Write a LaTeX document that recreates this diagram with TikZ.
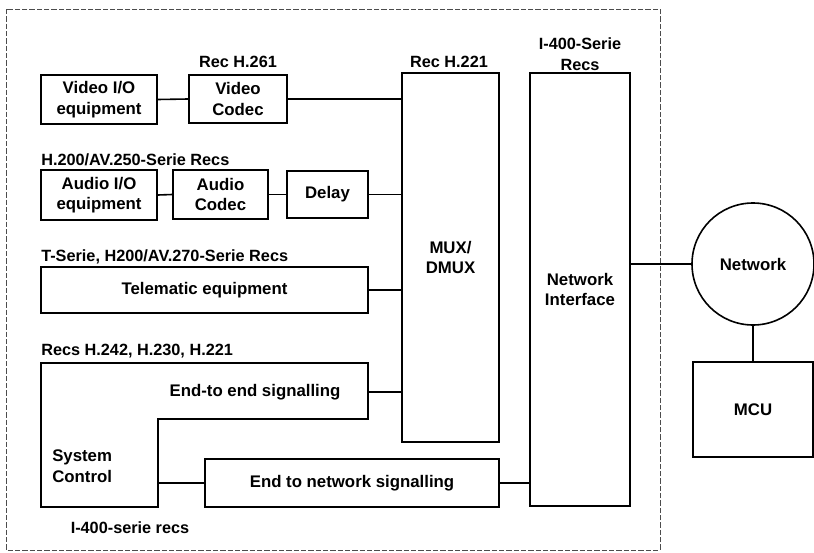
\documentclass[tikz,border=0pt]{standalone}
\usepackage{fontspec}
\setmainfont{Liberation Sans}
\begin{document}
\begin{tikzpicture}[x=0.75pt,y=-0.75pt,
  box/.style={draw,line width=1.2pt,align=center,inner sep=0pt,font=\bfseries\fontsize{12.6}{15.5}\selectfont},
  txt/.style={align=center,inner sep=0pt,font=\bfseries\fontsize{12.6}{15.5}\selectfont},
  lbl/.style={inner sep=0pt,align=center,font=\bfseries\fontsize{12.2}{15.5}\selectfont},
  conn/.style={line width=1.2pt},
  frame/.style={line width=0.6pt,black!70,dash pattern=on 4pt off 1.5pt}]
\useasboundingbox (0,0) rectangle (814,553);
\fill[white] (0,0) rectangle (814,553);
% outer dashed frame
\draw[frame] (6,9) rectangle (660,550);

% boxes
\node[box,minimum width=87pt,minimum height=36.75pt] (vio) at (99,99.5) {Video I/O\\equipment};
\node[box,minimum width=73.5pt,minimum height=36pt] (vcod) at (238,99) {Video\\Codec};
\node[box,minimum width=87pt,minimum height=37.5pt] (aio) at (99,195) {Audio I/O\\equipment};
\node[box,minimum width=71.25pt,minimum height=36.75pt] (acod) at (220.5,194.5) {Audio\\Codec};
\node[box,minimum width=60.75pt,minimum height=35.25pt] (delay) at (327.5,194.5) {Delay};
\node[box,minimum width=245.25pt,minimum height=34.5pt] (tele) at (204.5,290) {Telematic equipment};
\node[box,minimum width=72.75pt,minimum height=276.75pt] (mux) at (450.5,257.5) {MUX/\\DMUX};
\node[box,minimum width=75pt,minimum height=324.75pt] (ni) at (580,289.5) {Network\\Interface};
\node[box,minimum width=220.5pt,minimum height=36pt] (e2n) at (352,483) {End to network signalling};
\node[box,circle,minimum size=91.5pt] (net) at (753,264) {Network};
\node[box,minimum width=90pt,minimum height=71.25pt] (mcu) at (753,409.5) {MCU};

% system control L-shaped box
\coordinate (sctl) at (41,363);
\coordinate (sctr) at (368,363);
\coordinate (scnotch) at (158,419);
\coordinate (scbl) at (41,507);
\draw[conn] (sctl) -- (sctr) -- (sctr |- scnotch) -- (scnotch) -- (scnotch |- scbl) -- (scbl) -- cycle;
\node[txt] (e2e) at (255,392) {End-to end signalling};
\node[txt,anchor=west,align=left] (sc) at (52,466) {System\\Control};
\coordinate (e2eout) at (368,392);
\coordinate (scout) at (158,483);

% labels
\node[lbl] (l261) at (238,62) {Rec H.261};
\node[lbl,anchor=west] (l250) at (41,160) {H.200/AV.250-Serie Recs};
\node[lbl,anchor=west] (l270) at (41,257) {T-Serie, H200/AV.270-Serie Recs};
\node[lbl,anchor=west] (l242) at (41,351) {Recs H.242, H.230, H.221};
\node[lbl] (l400b) at (130,528) {I-400-serie recs};
\node[lbl] (l221) at (449,62) {Rec H.221};
\node[lbl] (l400) at (580,54) {I-400-Serie\\Recs};

% connectors
\draw[conn] (vio.east) -- (vcod.west);
\draw[conn] (vcod.east) -- (vcod.east -| mux.west);
\draw[conn] (aio.east) -- (acod.west);
\draw[conn] (acod.east) -- (delay.west);
\draw[conn] (delay.east) -- (delay.east -| mux.west);
\draw[conn] (tele.east) -- (tele.east -| mux.west);
\draw[conn] (e2eout) -- (e2eout -| mux.west);
\draw[conn] (scout) -- (e2n.west);
\draw[conn] (e2n.east) -- (e2n.east -| ni.west);
\draw[conn] (net.west -| ni.east) -- (net.west);
\draw[conn] (net.south) -- (mcu.north);
\end{tikzpicture}
\end{document}
